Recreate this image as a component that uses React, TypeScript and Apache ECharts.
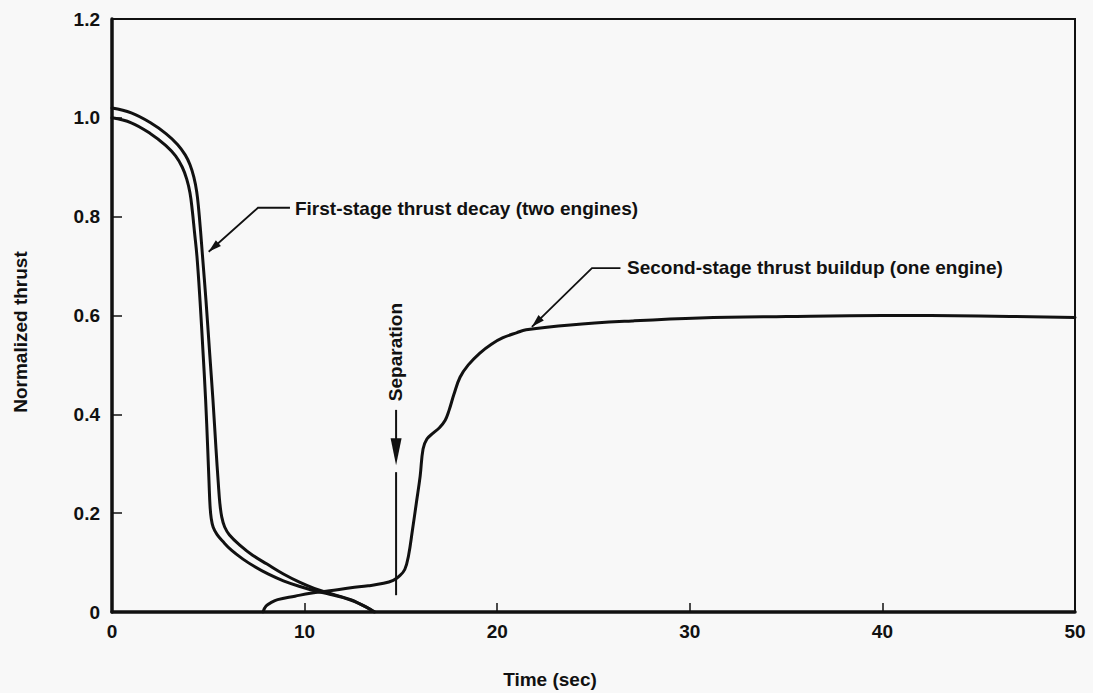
import React, { useEffect, useRef } from "react";
import * as echarts from "echarts";

// Axis ranges
const X_MIN = 0;
const X_MAX = 50;
const X_STEP = 10;
const Y_MIN = 0;
const Y_MAX = 1.2;
const Y_STEP = 0.2;

// First-stage thrust decay, two engines (time s, normalized thrust)
const firstStageOuter: [number, number][] = [
  [0, 1.02], [1, 1.01], [2, 0.99], [2.8, 0.968], [3.4, 0.946], [3.8, 0.925], [4.05, 0.905],
  [4.25, 0.88], [4.4, 0.85], [4.5, 0.815], [4.6, 0.77], [4.7, 0.72], [4.88, 0.63],
  [5.06, 0.53], [5.24, 0.43], [5.4, 0.33], [5.52, 0.26], [5.6, 0.22], [5.7, 0.192],
  [5.85, 0.172], [6.1, 0.156], [6.65, 0.135], [7.3, 0.115], [8.05, 0.097], [8.9, 0.077],
  [9.76, 0.06], [10.5, 0.048], [11.2, 0.039], [11.8, 0.032], [12.4, 0.025], [12.9, 0.016],
  [13.3, 0.008], [13.65, 0],
];
const firstStageInner: [number, number][] = [
  [0, 1.0], [1, 0.99], [2, 0.968], [2.8, 0.944], [3.3, 0.923], [3.65, 0.9], [3.88, 0.876],
  [4.05, 0.848], [4.17, 0.812], [4.28, 0.77], [4.41, 0.72], [4.57, 0.63], [4.72, 0.53],
  [4.86, 0.43], [4.97, 0.33], [5.04, 0.26], [5.09, 0.215], [5.15, 0.19], [5.25, 0.172],
  [5.45, 0.157], [5.75, 0.143], [6.2, 0.125], [6.8, 0.107], [7.4, 0.092], [8.1, 0.077],
  [8.9, 0.063], [9.8, 0.051], [10.6, 0.042], [11.3, 0.036], [12.0, 0.029], [12.6, 0.021],
  [13.1, 0.012], [13.45, 0.004], [13.6, 0],
];

// Second-stage thrust buildup, one engine
const secondStage: [number, number][] = [
  [7.84, 0], [8.0, 0.012], [8.3, 0.02], [8.6, 0.025], [9.5, 0.032], [10.3, 0.038],
  [11.3, 0.043], [12.4, 0.049], [13.3, 0.053], [14.1, 0.058], [14.6, 0.064], [14.9, 0.072],
  [15.2, 0.086], [15.4, 0.115], [15.6, 0.166], [15.8, 0.22], [16.0, 0.275], [16.15, 0.33],
  [16.35, 0.35], [16.67, 0.362], [17.0, 0.373], [17.3, 0.388], [17.5, 0.408], [17.75, 0.44],
  [18.07, 0.475], [18.5, 0.5], [19.1, 0.524], [19.7, 0.542], [20.3, 0.555], [21.0, 0.565],
  [21.5, 0.571], [23.8, 0.581], [27, 0.589], [30.5, 0.595], [35, 0.598], [40, 0.6],
  [45, 0.599], [50, 0.596],
];

// Annotations (data coordinates)
const firstLabel = "First-stage thrust decay (two engines)";
const firstArrow: [number, number][] = [[9.24, 0.818], [7.58, 0.818], [5.02, 0.729]];
const firstTextAt: [number, number] = [9.5, 0.816];

const secondLabel = "Second-stage thrust buildup (one engine)";
const secondArrow: [number, number][] = [[26.4, 0.696], [24.92, 0.696], [21.8, 0.577]];
const secondTextAt: [number, number] = [26.74, 0.698];

const sepLabel = "Separation";
const sepTime = 14.75;
const sepTextY = 0.526;
const sepArrowTop = 0.409;
const sepArrowTip = 0.297;
const sepLineTop = 0.283;
const sepLineBottom = 0.034;

const xTitle = "Time (sec)";
const yTitle = "Normalized thrust";

const FONT = "'Liberation Sans', Arial, Helvetica, sans-serif";
const INK = "#111";

function head(tip: number[], from: number[], len: number, hw: number) {
  const dx = tip[0] - from[0];
  const dy = tip[1] - from[1];
  const d = Math.hypot(dx, dy) || 1;
  const ux = dx / d;
  const uy = dy / d;
  const bx = tip[0] - ux * len;
  const by = tip[1] - uy * len;
  return [
    [tip[0], tip[1]],
    [bx - uy * hw, by + ux * hw],
    [bx + uy * hw, by - ux * hw],
  ];
}

function txt(x: number, y: number, text: string, align: string, extra: any = {}) {
  return {
    type: "text",
    x,
    y,
    ...extra,
    style: {
      text,
      fill: INK,
      fontFamily: FONT,
      fontWeight: "bold",
      fontSize: 19,
      align,
      verticalAlign: "middle",
      textAlign: align,
      textVerticalAlign: "middle",
    },
  };
}

export default function App() {
  const ref = useRef<HTMLDivElement>(null);
  useEffect(() => {
    const chart = echarts.init(ref.current!, null, { renderer: "svg" });
    const lineSeries = (name: string, data: [number, number][]) => ({
      name,
      type: "line",
      data,
      showSymbol: false,
      smooth: 0.4,
      lineStyle: { color: INK, width: 3, join: "round", cap: "round" },
      z: 3,
    });
    chart.setOption({
      animation: false,
      backgroundColor: "#f8f8f8",
      grid: {
        left: 112,
        right: 18,
        top: 19,
        bottom: 81,
        show: true,
        borderColor: INK,
        borderWidth: 2,
      },
      xAxis: {
        type: "value",
        min: X_MIN,
        max: X_MAX,
        interval: X_STEP,
        axisLine: { show: true, onZero: false, lineStyle: { color: INK, width: 3.5 } },
        axisTick: { show: true, inside: true, length: 9, lineStyle: { color: INK, width: 1.5 } },
        axisLabel: { margin: 10, color: INK, fontFamily: FONT, fontWeight: "bold", fontSize: 19 },
        splitLine: { show: false },
      },
      yAxis: {
        type: "value",
        min: Y_MIN,
        max: Y_MAX,
        interval: Y_STEP,
        axisLine: { show: true, onZero: false, lineStyle: { color: INK, width: 3.5 } },
        axisTick: { show: true, inside: true, length: 10, lineStyle: { color: INK, width: 1.5 } },
        axisLabel: {
          margin: 12,
          color: INK,
          fontFamily: FONT,
          fontWeight: "bold",
          fontSize: 19,
          formatter: (v: number) => (v === 0 ? "0" : v.toFixed(1)),
        },
        splitLine: { show: false },
      },
      series: [
        lineSeries("First stage A", firstStageOuter),
        lineSeries("First stage B", firstStageInner),
        lineSeries("Second stage", secondStage),
      ],
    });

    const px = (p: [number, number]) => chart.convertToPixel({ gridIndex: 0 }, p) as number[];

    const fa = firstArrow.map(px);
    const sa = secondArrow.map(px);
    const ft = px(firstTextAt);
    const st = px(secondTextAt);
    const sepTop = px([sepTime, sepArrowTop]);
    const sepTip = px([sepTime, sepArrowTip]);
    const sepL1 = px([sepTime, sepLineTop]);
    const sepL2 = px([sepTime, sepLineBottom]);
    const sepTxt = px([sepTime, sepTextY]);

    const graphic: any[] = [
      { type: "polyline", shape: { points: fa }, style: { stroke: INK, lineWidth: 1.8, fill: "none" } },
      { type: "polygon", shape: { points: head(fa[2], fa[1], 13, 3.8) }, style: { fill: INK } },
      txt(ft[0], ft[1], firstLabel, "left"),
      { type: "polyline", shape: { points: sa }, style: { stroke: INK, lineWidth: 1.8, fill: "none" } },
      { type: "polygon", shape: { points: head(sa[2], sa[1], 13, 3.8) }, style: { fill: INK } },
      txt(st[0], st[1], secondLabel, "left"),
      { type: "line", shape: { x1: sepTop[0], y1: sepTop[1], x2: sepTip[0], y2: sepTip[1] - 10 }, style: { stroke: INK, lineWidth: 2 } },
      { type: "polygon", shape: { points: head(sepTip, sepTop, 27, 5.5) }, style: { fill: INK } },
      { type: "line", shape: { x1: sepL1[0], y1: sepL1[1], x2: sepL2[0], y2: sepL2[1] }, style: { stroke: INK, lineWidth: 2 } },
      txt(sepTxt[0] - 1, sepTxt[1], sepLabel, "center", { rotation: Math.PI / 2 }),
      txt(550, 679, xTitle, "center"),
      txt(20, 332, yTitle, "center", { rotation: Math.PI / 2 }),
    ];
    chart.setOption({ graphic });

    return () => chart.dispose();
  }, []);

  return (
    <div
      ref={ref}
      style={{ position: "fixed", left: 0, top: 0, width: 1093, height: 693, background: "#f8f8f8" }}
    />
  );
}
